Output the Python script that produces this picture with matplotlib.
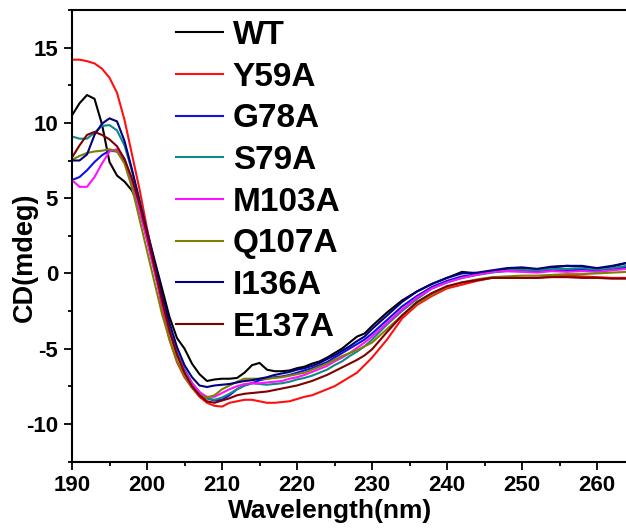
import numpy as np
import matplotlib
matplotlib.use("Agg")
import matplotlib.pyplot as plt
from matplotlib.ticker import MultipleLocator

plt.rcParams['font.family'] = ['Liberation Sans', 'DejaVu Sans']
plt.rcParams['font.weight'] = 'bold'
plt.rcParams['axes.unicode_minus'] = False

# wavelength grid (nm)
wavelength = list(range(190, 231)) + list(range(232, 266, 2))

labels = ["WT", "Y59A", "G78A", "S79A", "M103A", "Q107A", "I136A", "E137A"]
colors = ["#000000", "#ff1010", "#1010e8", "#108888", "#ff10ff", "#808000", "#000080", "#800000"]

wt = [10.5, 11.3, 11.85, 11.6, 9.9, 7.4, 6.5, 6.1, 5.5, 4.4,
      2.85, 0.9, -1.0, -2.9, -4.3, -5.0, -6.0, -6.7, -7.15, -7.05,
      -7.0, -7.0, -6.95, -6.6, -6.1, -5.95, -6.4, -6.5, -6.5, -6.45,
      -6.3, -6.2, -6.0, -5.85, -5.6, -5.3, -5.0, -4.6, -4.2, -4.0,
      -3.5, -2.6, -1.8, -1.2, -0.7, -0.3, 0.1, 0.0, 0.15, 0.3,
      0.35, 0.25, 0.4, 0.5, 0.45, 0.25, 0.45, 0.7]
y59a = [14.2, 14.2, 14.1, 13.95, 13.6, 13.0, 12.0, 10.2, 7.9, 5.6,
        3.0, 0.5, -2.3, -4.4, -5.9, -6.9, -7.6, -8.2, -8.6, -8.8,
        -8.85, -8.6, -8.5, -8.4, -8.4, -8.5, -8.6, -8.6, -8.55, -8.5,
        -8.35, -8.2, -8.1, -7.9, -7.7, -7.5, -7.2, -6.9, -6.6, -6.1,
        -5.6, -4.4, -3.0, -2.1, -1.5, -1.0, -0.75, -0.5, -0.3, -0.3,
        -0.3, -0.3, -0.2, -0.15, -0.2, -0.25, -0.3, -0.3]
g78a = [6.2, 6.4, 6.85, 7.4, 7.85, 8.15, 8.1, 7.5, 6.0, 4.2,
        2.3, 0.2, -1.9, -3.8, -5.3, -6.4, -7.3, -7.9, -8.3, -8.45,
        -8.4, -8.1, -7.7, -7.45, -7.3, -7.1, -7.0, -6.9, -6.85, -6.75,
        -6.6, -6.45, -6.3, -6.1, -5.9, -5.6, -5.3, -5.0, -4.7, -4.4,
        -4.0, -3.1, -2.2, -1.5, -0.9, -0.5, -0.2, -0.05, 0.1, 0.15,
        0.15, 0.1, 0.2, 0.2, 0.25, 0.2, 0.3, 0.4]
s79a = [9.1, 8.95, 8.95, 9.35, 9.8, 9.85, 9.5, 8.5, 6.8, 4.9,
        2.6, 0.4, -1.8, -3.7, -5.3, -6.4, -7.3, -7.9, -8.3, -8.4,
        -8.25, -8.0, -7.7, -7.45, -7.3, -7.35, -7.4, -7.35, -7.3, -7.2,
        -7.05, -6.95, -6.8, -6.6, -6.4, -6.1, -5.85, -5.5, -5.2, -4.85,
        -4.4, -3.4, -2.5, -1.7, -1.0, -0.6, -0.3, -0.1, 0.05, 0.2,
        0.25, 0.2, 0.3, 0.3, 0.35, 0.25, 0.35, 0.5]
m103a = [6.2, 5.75, 5.75, 6.4, 7.3, 8.1, 8.25, 7.6, 6.1, 4.2,
         2.2, 0.1, -2.0, -3.9, -5.4, -6.5, -7.3, -7.9, -8.2, -8.2,
         -7.95, -7.7, -7.5, -7.35, -7.3, -7.3, -7.25, -7.2, -7.15, -7.0,
         -6.9, -6.75, -6.55, -6.35, -6.15, -5.85, -5.6, -5.3, -4.95, -4.6,
         -4.2, -3.3, -2.4, -1.6, -1.0, -0.6, -0.3, -0.1, 0.1, 0.15,
         0.1, 0.05, 0.15, 0.1, 0.15, 0.1, 0.2, 0.3]
q107a = [7.55, 7.8, 8.0, 8.1, 8.15, 8.25, 8.1, 7.3, 5.7, 3.6,
         1.5, -0.6, -2.7, -4.4, -5.8, -6.8, -7.6, -8.1, -8.25, -8.1,
         -7.7, -7.45, -7.2, -7.0, -7.0, -7.0, -7.0, -6.95, -6.9, -6.8,
         -6.7, -6.6, -6.4, -6.2, -6.0, -5.75, -5.5, -5.3, -5.1, -4.85,
         -4.6, -3.7, -2.8, -2.0, -1.4, -0.9, -0.6, -0.4, -0.25, -0.2,
         -0.15, -0.15, -0.1, -0.05, -0.05, 0.0, 0.05, 0.1]
i136a = [7.5, 7.5, 7.9, 9.2, 9.95, 10.3, 10.1, 8.8, 6.9, 4.8,
         2.8, 0.7, -1.4, -3.3, -4.9, -6.1, -6.9, -7.45, -7.55, -7.45,
         -7.4, -7.35, -7.25, -7.15, -7.1, -7.0, -6.9, -6.75, -6.65, -6.55,
         -6.4, -6.3, -6.15, -5.95, -5.7, -5.45, -5.15, -4.85, -4.5, -4.2,
         -3.7, -2.8, -1.9, -1.2, -0.7, -0.3, 0.0, 0.05, 0.2, 0.35,
         0.4, 0.3, 0.45, 0.5, 0.5, 0.35, 0.5, 0.7]
e137a = [7.7, 8.5, 9.2, 9.4, 9.2, 8.9, 8.45, 7.6, 6.3, 4.6,
         2.6, 0.4, -1.8, -3.8, -5.4, -6.6, -7.5, -8.1, -8.5, -8.6,
         -8.45, -8.3, -8.1, -8.0, -7.95, -7.9, -7.85, -7.75, -7.65, -7.55,
         -7.45, -7.3, -7.15, -6.95, -6.75, -6.5, -6.25, -6.0, -5.75, -5.45,
         -5.05, -3.9, -2.8, -1.9, -1.3, -0.85, -0.6, -0.45, -0.3, -0.3,
         -0.3, -0.3, -0.25, -0.25, -0.3, -0.3, -0.35, -0.35]

series = [wt, y59a, g78a, s79a, m103a, q107a, i136a, e137a]

xticks = [190, 200, 210, 220, 230, 240, 250, 260]

W, H = 626, 530
fig = plt.figure(figsize=(W / 100, H / 100), dpi=100)
ax_left, ax_bottom, ax_top = 72, 461.5, 10
ax = fig.add_axes([ax_left / W, (H - ax_bottom) / H, 600 / W, (ax_bottom - ax_top) / H])

for vals, lab, col in zip(series, labels, colors):
    ax.plot(wavelength, vals, color=col, lw=1.5, label=lab)

ax.set_xlim(190, 270)
ax.set_ylim(-12.5, 17.5)
ax.set_xticks(xticks)
ax.xaxis.set_minor_locator(MultipleLocator(5))
ax.yaxis.set_major_locator(MultipleLocator(5))
ax.yaxis.set_minor_locator(MultipleLocator(2.5))
ax.tick_params(which='major', direction='out', length=6, width=1.3, labelsize=16, pad=4)
ax.tick_params(which='minor', direction='out', length=3, width=1.3)
ax.tick_params(top=False, right=False)
for s in ax.spines.values():
    s.set_linewidth(1.5)

ax.set_xlabel("Wavelength(nm)", fontsize=19, fontweight='bold')
ax.set_ylabel("CD(mdeg)", fontsize=19.5, fontweight='bold')
ax.xaxis.set_label_coords(0.43, -0.082)
ax.yaxis.set_label_coords(-0.057, 0.452)

leg = ax.legend(loc='upper left', bbox_to_anchor=(176 / W, 1 - 20 / H),
                bbox_transform=fig.transFigure, frameon=False,
                prop={'size': 24, 'weight': 'bold'}, borderpad=0, borderaxespad=0,
                handlelength=1.42, handletextpad=0.28, labelspacing=0.32)
for ln in leg.get_lines():
    ln.set_linewidth(1.5)

fig.savefig("out.png", dpi=100)
